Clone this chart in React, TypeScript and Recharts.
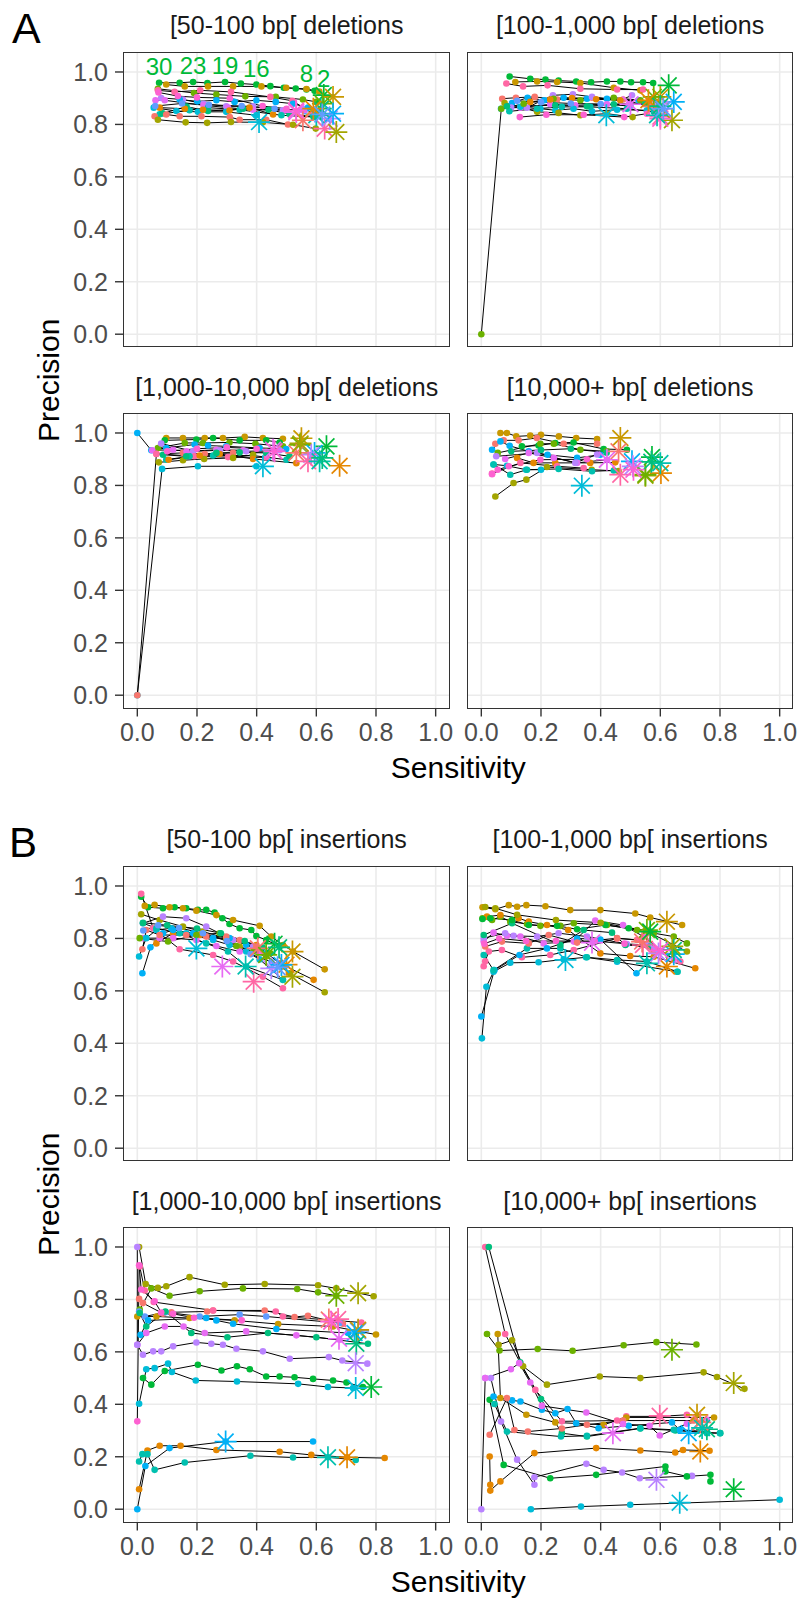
import React from "react";
import { ScatterChart, Scatter, XAxis, YAxis, CartesianGrid } from "recharts";

// ggplot hue palette, one colour per caller
const palette = [
  "#F8766D", "#E58700", "#C99800", "#A3A500", "#6BB100",
  "#00BA38", "#00BF7D", "#00C0AF", "#00BCD8", "#00B0F6",
  "#619CFF", "#B983FF", "#E76BF3", "#FD61D1", "#FF67A4",
];

const xTicks = [0, 0.2, 0.4, 0.6, 0.8, 1];
const yTicks = [0, 0.2, 0.4, 0.6, 0.8, 1];

const panelTitles = [
  "[50-100 bp[ deletions",
  "[100-1,000 bp[ deletions",
  "[1,000-10,000 bp[ deletions",
  "[10,000+ bp[ deletions",
  "[50-100 bp[ insertions",
  "[100-1,000 bp[ insertions",
  "[1,000-10,000 bp[ insertions",
  "[10,000+ bp[ insertions",
];

type Series = { id: number; pts: number[][]; star: number[] };

const del50: Series[] = [
  { id: 5, pts: [[0.073, 0.959], [0.142, 0.959], [0.187, 0.962], [0.235, 0.958], [0.294, 0.962], [0.347, 0.956], [0.399, 0.952], [0.446, 0.946], [0.491, 0.94], [0.531, 0.937], [0.567, 0.933], [0.594, 0.928]], star: [0.625, 0.912] },
  { id: 2, pts: [[0.097, 0.952], [0.159, 0.945], [0.237, 0.945], [0.321, 0.945], [0.416, 0.945], [0.499, 0.94], [0.567, 0.935], [0.61, 0.925]], star: [0.656, 0.905] },
  { id: 4, pts: [[0.069, 0.936], [0.19, 0.92], [0.265, 0.914], [0.362, 0.907], [0.464, 0.905], [0.555, 0.895], [0.6, 0.886]], star: [0.622, 0.879] },
  { id: 14, pts: [[0.069, 0.93], [0.125, 0.924], [0.211, 0.93], [0.314, 0.924], [0.446, 0.905], [0.52, 0.89], [0.59, 0.84]], star: [0.628, 0.784] },
  { id: 11, pts: [[0.08, 0.901], [0.153, 0.895], [0.222, 0.879], [0.298, 0.869], [0.388, 0.869], [0.488, 0.854], [0.555, 0.86]], star: [0.645, 0.822] },
  { id: 12, pts: [[0.061, 0.892], [0.092, 0.892], [0.222, 0.873], [0.304, 0.864], [0.388, 0.856], [0.497, 0.854]], star: [0.533, 0.847] },
  { id: 9, pts: [[0.142, 0.895], [0.201, 0.888], [0.265, 0.892], [0.326, 0.886], [0.399, 0.892], [0.464, 0.886], [0.522, 0.879], [0.572, 0.864]], star: [0.656, 0.841] },
  { id: 8, pts: [[0.055, 0.864], [0.131, 0.851], [0.203, 0.848], [0.298, 0.848], [0.399, 0.835]], star: [0.408, 0.809] },
  { id: 7, pts: [[0.075, 0.839], [0.175, 0.854], [0.237, 0.864], [0.343, 0.856], [0.483, 0.835], [0.594, 0.828]], star: [0.6, 0.835] },
  { id: 6, pts: [[0.085, 0.842], [0.165, 0.868], [0.237, 0.851], [0.355, 0.86], [0.44, 0.856], [0.51, 0.84], [0.59, 0.83]], star: [0.615, 0.86] },
  { id: 1, pts: [[0.075, 0.864], [0.159, 0.86], [0.22, 0.856], [0.309, 0.853], [0.376, 0.864], [0.455, 0.838]], star: [0.59, 0.86] },
  { id: 0, pts: [[0.058, 0.831], [0.097, 0.838], [0.142, 0.831], [0.215, 0.831], [0.31, 0.828], [0.343, 0.818], [0.432, 0.818], [0.505, 0.8]], star: [0.555, 0.816] },
  { id: 3, pts: [[0.069, 0.818], [0.162, 0.808], [0.234, 0.806], [0.314, 0.809], [0.421, 0.808], [0.522, 0.799], [0.598, 0.784]], star: [0.667, 0.771] },
  { id: 13, pts: [[0.071, 0.922], [0.136, 0.908], [0.2, 0.903], [0.31, 0.9], [0.42, 0.87], [0.5, 0.86]], star: [0.532, 0.853] },
  { id: 10, pts: [[0.06, 0.87], [0.15, 0.88], [0.24, 0.875], [0.35, 0.87], [0.46, 0.86], [0.56, 0.85]], star: [0.62, 0.838] },
];

const del50Labels = [
  { x: 0.073, y: 0.959, text: "30" },
  { x: 0.187, y: 0.962, text: "23" },
  { x: 0.294, y: 0.962, text: "19" },
  { x: 0.399, y: 0.952, text: "16" },
  { x: 0.567, y: 0.933, text: "8" },
  { x: 0.625, y: 0.912, text: "2" },
];

const del100: Series[] = [
  { id: 5, pts: [[0.095, 0.983], [0.164, 0.974], [0.215, 0.971], [0.259, 0.967], [0.318, 0.964], [0.368, 0.961], [0.421, 0.964], [0.466, 0.964], [0.502, 0.961], [0.542, 0.961], [0.576, 0.958]], star: [0.628, 0.949] },
  { id: 2, pts: [[0.114, 0.962], [0.187, 0.964], [0.254, 0.962], [0.332, 0.958], [0.444, 0.94], [0.533, 0.93]], star: [0.6, 0.905] },
  { id: 14, pts: [[0.084, 0.956], [0.14, 0.945], [0.222, 0.949], [0.332, 0.936], [0.455, 0.933], [0.542, 0.933]], star: [0.6, 0.83] },
  { id: 0, pts: [[0.07, 0.898], [0.116, 0.902], [0.179, 0.905], [0.254, 0.895], [0.371, 0.902], [0.475, 0.895], [0.566, 0.867]], star: [0.578, 0.869] },
  { id: 9, pts: [[0.103, 0.882], [0.155, 0.902], [0.211, 0.892], [0.276, 0.902], [0.354, 0.898], [0.421, 0.898], [0.527, 0.892]], star: [0.645, 0.886] },
  { id: 11, pts: [[0.1, 0.864], [0.153, 0.864], [0.24, 0.911], [0.307, 0.915], [0.371, 0.905], [0.466, 0.892], [0.505, 0.911]], star: [0.6, 0.86] },
  { id: 12, pts: [[0.131, 0.864], [0.231, 0.877], [0.315, 0.873], [0.421, 0.877], [0.494, 0.877]], star: [0.5, 0.877] },
  { id: 8, pts: [[0.066, 0.86], [0.131, 0.867], [0.198, 0.86], [0.248, 0.854], [0.309, 0.86], [0.371, 0.85], [0.455, 0.856], [0.555, 0.854]], star: [0.419, 0.835] },
  { id: 3, pts: [[0.078, 0.882], [0.187, 0.848], [0.259, 0.844], [0.332, 0.835], [0.421, 0.841], [0.507, 0.828]], star: [0.639, 0.816] },
  { id: 13, pts: [[0.129, 0.828], [0.218, 0.837], [0.343, 0.837], [0.479, 0.828], [0.555, 0.841]], star: [0.6, 0.822] },
  { id: 4, pts: [[0, 0], [0.067, 0.86], [0.142, 0.879], [0.242, 0.898], [0.332, 0.892], [0.444, 0.902], [0.533, 0.892]], star: [0.578, 0.905] },
  { id: 7, pts: [[0.094, 0.85], [0.187, 0.86], [0.27, 0.867], [0.365, 0.867], [0.488, 0.86], [0.578, 0.848]], star: [0.589, 0.835] },
  { id: 1, pts: [[0.164, 0.886], [0.231, 0.895], [0.304, 0.901], [0.385, 0.896], [0.466, 0.892], [0.564, 0.89]], star: [0.56, 0.892] },
  { id: 6, pts: [[0.086, 0.869], [0.248, 0.873], [0.354, 0.869], [0.444, 0.877], [0.55, 0.879]], star: [0.6, 0.87] },
  { id: 10, pts: [[0.12, 0.89], [0.2, 0.885], [0.3, 0.88], [0.4, 0.878], [0.5, 0.87]], star: [0.61, 0.86] },
];

const del1k: Series[] = [
  { id: 2, pts: [[0.097, 0.981], [0.153, 0.981], [0.226, 0.981], [0.287, 0.981], [0.36, 0.985], [0.421, 0.981], [0.488, 0.978]], star: [0.55, 0.98] },
  { id: 5, pts: [[0.092, 0.972], [0.198, 0.975], [0.254, 0.981], [0.343, 0.972], [0.432, 0.972], [0.477, 0.964]], star: [0.634, 0.949] },
  { id: 4, pts: [[0.069, 0.943], [0.159, 0.962], [0.22, 0.962], [0.309, 0.964], [0.396, 0.959], [0.488, 0.949]], star: [0.545, 0.955] },
  { id: 9, pts: [[0, 1], [0.047, 0.934], [0.097, 0.943], [0.192, 0.956], [0.237, 0.952], [0.298, 0.949], [0.41, 0.943], [0.499, 0.939]], star: [0.594, 0.924] },
  { id: 8, pts: [[0, 0], [0.083, 0.863], [0.203, 0.873], [0.399, 0.873]], star: [0.421, 0.873] },
  { id: 0, pts: [[0, 0], [0.064, 0.92], [0.153, 0.924], [0.226, 0.92], [0.321, 0.924], [0.432, 0.928]], star: [0.533, 0.924] },
  { id: 12, pts: [[0.05, 0.934], [0.12, 0.936], [0.165, 0.93], [0.265, 0.936], [0.355, 0.934]], star: [0.455, 0.936] },
  { id: 11, pts: [[0.08, 0.96], [0.187, 0.93], [0.277, 0.934], [0.365, 0.93], [0.477, 0.934]], star: [0.583, 0.917] },
  { id: 14, pts: [[0.064, 0.921], [0.192, 0.911], [0.304, 0.908], [0.432, 0.907]], star: [0.572, 0.892] },
  { id: 7, pts: [[0.097, 0.898], [0.175, 0.911], [0.254, 0.914], [0.388, 0.914], [0.5, 0.898]], star: [0.611, 0.892] },
  { id: 3, pts: [[0.072, 0.888], [0.153, 0.896], [0.224, 0.901], [0.321, 0.905], [0.388, 0.917]], star: [0.547, 0.96] },
  { id: 1, pts: [[0.105, 0.898], [0.209, 0.914], [0.276, 0.92], [0.388, 0.901], [0.533, 0.885]], star: [0.678, 0.875] },
  { id: 6, pts: [[0.086, 0.917], [0.164, 0.911], [0.265, 0.924], [0.343, 0.926], [0.432, 0.924], [0.51, 0.911]], star: [0.62, 0.905] },
  { id: 13, pts: [[0.1, 0.93], [0.2, 0.94], [0.3, 0.945], [0.4, 0.94]], star: [0.46, 0.93] },
];

const del10k: Series[] = [
  { id: 3, pts: [[0.047, 0.758], [0.108, 0.809], [0.151, 0.822], [0.22, 0.87], [0.37, 0.86], [0.46, 0.855]], star: [0.55, 0.837] },
  { id: 8, pts: [[0.041, 0.88], [0.086, 0.875], [0.15, 0.86], [0.2, 0.86]], star: [0.337, 0.799] },
  { id: 2, pts: [[0.064, 1.0], [0.086, 1.0], [0.117, 0.987], [0.164, 0.99], [0.2, 0.993], [0.26, 0.987], [0.318, 0.981], [0.388, 0.977]], star: [0.466, 0.981] },
  { id: 1, pts: [[0.12, 0.905], [0.175, 0.886], [0.248, 0.886], [0.365, 0.886], [0.449, 0.888]], star: [0.602, 0.847] },
  { id: 0, pts: [[0.047, 0.959], [0.075, 0.972], [0.125, 0.972], [0.186, 0.981], [0.276, 0.959], [0.388, 0.959]], star: [0.46, 0.93] },
  { id: 9, pts: [[0.036, 0.936], [0.064, 0.968], [0.095, 0.951], [0.159, 0.93], [0.222, 0.917], [0.321, 0.905], [0.399, 0.917]], star: [0.505, 0.892] },
  { id: 5, pts: [[0.136, 0.949], [0.192, 0.952], [0.248, 0.962], [0.309, 0.964], [0.41, 0.939], [0.488, 0.936]], star: [0.572, 0.908] },
  { id: 4, pts: [[0.055, 0.924], [0.198, 0.959], [0.243, 0.959], [0.332, 0.936], [0.42, 0.93]], star: [0.55, 0.841] },
  { id: 12, pts: [[0.08, 0.901], [0.159, 0.924], [0.243, 0.905], [0.321, 0.886], [0.421, 0.898]], star: [0.421, 0.898] },
  { id: 14, pts: [[0.036, 0.845], [0.131, 0.886], [0.254, 0.873], [0.343, 0.866]], star: [0.466, 0.841] },
  { id: 11, pts: [[0.05, 0.911], [0.187, 0.924], [0.315, 0.886], [0.388, 0.918]], star: [0.508, 0.873] },
  { id: 7, pts: [[0.041, 0.88], [0.097, 0.841], [0.153, 0.86], [0.259, 0.863], [0.371, 0.854], [0.444, 0.857]], star: [0.6, 0.885] },
  { id: 6, pts: [[0.1, 0.93], [0.2, 0.935], [0.3, 0.94], [0.42, 0.925]], star: [0.57, 0.89] },
  { id: 13, pts: [[0.036, 0.843], [0.055, 0.86], [0.092, 0.873], [0.198, 0.898], [0.354, 0.9]], star: [0.51, 0.86] },
];

const ins50: Series[] = [
  { id: 5, pts: [[0.013, 0.959], [0.036, 0.919], [0.086, 0.915], [0.125, 0.919], [0.164, 0.915], [0.203, 0.909], [0.231, 0.909], [0.259, 0.899], [0.285, 0.877], [0.309, 0.855], [0.343, 0.839], [0.382, 0.832], [0.399, 0.809], [0.432, 0.794], [0.477, 0.769]], star: [0.46, 0.78] },
  { id: 2, pts: [[0.025, 0.924], [0.058, 0.928], [0.108, 0.919], [0.153, 0.915], [0.198, 0.906], [0.265, 0.889], [0.321, 0.87], [0.41, 0.848], [0.449, 0.807], [0.488, 0.775], [0.522, 0.75], [0.628, 0.682]], star: [0.52, 0.75] },
  { id: 3, pts: [[0.013, 0.892], [0.075, 0.87], [0.153, 0.845], [0.22, 0.826], [0.298, 0.801], [0.343, 0.769], [0.432, 0.731], [0.511, 0.667], [0.628, 0.595]], star: [0.52, 0.654] },
  { id: 1, pts: [[0.064, 0.781], [0.12, 0.82], [0.209, 0.813], [0.321, 0.794], [0.399, 0.775], [0.477, 0.705], [0.591, 0.642]], star: [0.5, 0.7] },
  { id: 11, pts: [[0.019, 0.858], [0.086, 0.883], [0.164, 0.877], [0.231, 0.845], [0.321, 0.794], [0.388, 0.769]], star: [0.449, 0.686] },
  { id: 12, pts: [[0.019, 0.801], [0.075, 0.801], [0.12, 0.801], [0.198, 0.794], [0.265, 0.771], [0.343, 0.75], [0.41, 0.75]], star: [0.285, 0.693] },
  { id: 14, pts: [[0.013, 0.97], [0.053, 0.839], [0.142, 0.759], [0.254, 0.737], [0.321, 0.712], [0.421, 0.654], [0.488, 0.61]], star: [0.39, 0.635] },
  { id: 8, pts: [[0.006, 0.731], [0.03, 0.801], [0.064, 0.832], [0.114, 0.839], [0.164, 0.82], [0.254, 0.794], [0.309, 0.775], [0.365, 0.75], [0.41, 0.72], [0.488, 0.642]], star: [0.198, 0.762] },
  { id: 9, pts: [[0.017, 0.667], [0.044, 0.766], [0.086, 0.82], [0.12, 0.832], [0.187, 0.82], [0.254, 0.801], [0.309, 0.801], [0.365, 0.775], [0.432, 0.743]], star: [0.483, 0.699] },
  { id: 7, pts: [[0.019, 0.858], [0.064, 0.839], [0.142, 0.82], [0.231, 0.781], [0.304, 0.75], [0.365, 0.693], [0.488, 0.642]], star: [0.363, 0.693] },
  { id: 0, pts: [[0.017, 0.759], [0.03, 0.832], [0.075, 0.813], [0.164, 0.813], [0.231, 0.807], [0.298, 0.807], [0.343, 0.794], [0.399, 0.769]], star: [0.404, 0.762] },
  { id: 4, pts: [[0.008, 0.801], [0.103, 0.788], [0.198, 0.813], [0.276, 0.82], [0.332, 0.771], [0.388, 0.75], [0.446, 0.743]], star: [0.432, 0.737] },
  { id: 6, pts: [[0.019, 0.86], [0.1, 0.85], [0.2, 0.838], [0.28, 0.82], [0.36, 0.79], [0.42, 0.765]], star: [0.475, 0.766] },
  { id: 10, pts: [[0.02, 0.83], [0.07, 0.85], [0.14, 0.84], [0.22, 0.82], [0.3, 0.79], [0.38, 0.74], [0.45, 0.71]], star: [0.47, 0.69] },
];

const ins100: Series[] = [
  { id: 2, pts: [[0.004, 0.919], [0.047, 0.911], [0.092, 0.927], [0.12, 0.921], [0.151, 0.927], [0.215, 0.923], [0.298, 0.908], [0.399, 0.908], [0.516, 0.895], [0.566, 0.88], [0.673, 0.851]], star: [0.622, 0.864] },
  { id: 4, pts: [[0.004, 0.877], [0.036, 0.87], [0.064, 0.883], [0.097, 0.864], [0.153, 0.855], [0.198, 0.848], [0.265, 0.848], [0.31, 0.858], [0.421, 0.851], [0.522, 0.832], [0.578, 0.82], [0.645, 0.807], [0.689, 0.781]], star: [0.555, 0.832] },
  { id: 1, pts: [[0.019, 0.883], [0.064, 0.889], [0.125, 0.877], [0.159, 0.864], [0.22, 0.851], [0.291, 0.832], [0.399, 0.743], [0.499, 0.733], [0.578, 0.73], [0.717, 0.686]], star: [0.622, 0.693] },
  { id: 14, pts: [[0.008, 0.694], [0.013, 0.713], [0.025, 0.75], [0.069, 0.756], [0.136, 0.728], [0.231, 0.737], [0.31, 0.756], [0.455, 0.8], [0.533, 0.794], [0.6, 0.75], [0.667, 0.712]], star: [0.542, 0.775] },
  { id: 12, pts: [[0.008, 0.788], [0.041, 0.822], [0.086, 0.81], [0.131, 0.807], [0.209, 0.781], [0.31, 0.788], [0.382, 0.868], [0.475, 0.851], [0.544, 0.807], [0.645, 0.718]], star: [0.371, 0.784] },
  { id: 11, pts: [[0.008, 0.801], [0.08, 0.82], [0.108, 0.81], [0.187, 0.807], [0.259, 0.82], [0.354, 0.807], [0.488, 0.779], [0.555, 0.775]], star: [0.594, 0.743] },
  { id: 8, pts: [[0.002, 0.419], [0.017, 0.616], [0.041, 0.673], [0.097, 0.707], [0.192, 0.709], [0.276, 0.72], [0.351, 0.728], [0.455, 0.711], [0.656, 0.673]], star: [0.282, 0.718] },
  { id: 9, pts: [[0, 0.502], [0.044, 0.679], [0.128, 0.737], [0.22, 0.762], [0.321, 0.8], [0.399, 0.796], [0.52, 0.667]], star: [0.645, 0.74] },
  { id: 7, pts: [[0.008, 0.737], [0.041, 0.679], [0.153, 0.762], [0.265, 0.762], [0.354, 0.728], [0.455, 0.718], [0.555, 0.712], [0.658, 0.673]], star: [0.555, 0.705] },
  { id: 6, pts: [[0.008, 0.813], [0.103, 0.858], [0.265, 0.775], [0.343, 0.832], [0.438, 0.822], [0.483, 0.775], [0.566, 0.769], [0.645, 0.75]], star: [0.645, 0.756] },
  { id: 0, pts: [[0.013, 0.769], [0.069, 0.788], [0.159, 0.781], [0.226, 0.813], [0.321, 0.784], [0.455, 0.801], [0.522, 0.794], [0.578, 0.75]], star: [0.539, 0.788] },
  { id: 5, pts: [[0.004, 0.874], [0.03, 0.877], [0.103, 0.87], [0.159, 0.851], [0.254, 0.848], [0.321, 0.835], [0.416, 0.851], [0.494, 0.839], [0.566, 0.826]], star: [0.566, 0.826] },
  { id: 3, pts: [[0.013, 0.92], [0.047, 0.915], [0.12, 0.89], [0.25, 0.87], [0.4, 0.86], [0.55, 0.83], [0.689, 0.75]], star: [0.64, 0.77] },
  { id: 13, pts: [[0.01, 0.78], [0.06, 0.8], [0.15, 0.79], [0.25, 0.79], [0.38, 0.79], [0.48, 0.78], [0.58, 0.76]], star: [0.6, 0.755] },
];

const ins1k: Series[] = [
  { id: 3, pts: [[0.006, 1.0], [0.028, 0.859], [0.069, 0.844], [0.097, 0.85], [0.175, 0.885], [0.293, 0.856], [0.427, 0.859], [0.606, 0.854], [0.667, 0.842], [0.792, 0.812]], star: [0.74, 0.824] },
  { id: 4, pts: [[0.008, 0.761], [0.047, 0.842], [0.108, 0.814], [0.209, 0.831], [0.354, 0.842], [0.536, 0.84], [0.606, 0.827], [0.667, 0.814]], star: [0.667, 0.814] },
  { id: 0, pts: [[0.006, 0.802], [0.019, 0.786], [0.086, 0.746], [0.114, 0.751], [0.234, 0.754], [0.254, 0.758], [0.427, 0.758], [0.527, 0.733], [0.572, 0.738], [0.639, 0.72], [0.689, 0.707]], star: [0.642, 0.723] },
  { id: 14, pts: [[0.008, 0.926], [0.025, 0.834], [0.055, 0.79], [0.254, 0.758], [0.464, 0.754], [0.488, 0.735], [0.751, 0.712]], star: [0.673, 0.725] },
  { id: 10, pts: [[0.006, 0.754], [0.025, 0.735], [0.095, 0.751], [0.209, 0.735], [0.343, 0.742], [0.432, 0.735], [0.678, 0.71]], star: [0.74, 0.68] },
  { id: 2, pts: [[0, 0.735], [0.064, 0.735], [0.175, 0.729], [0.326, 0.72], [0.472, 0.706], [0.656, 0.697], [0.8, 0.666]], star: [0.74, 0.684] },
  { id: 9, pts: [[0.011, 0.665], [0.036, 0.72], [0.231, 0.729], [0.265, 0.72], [0.321, 0.707], [0.466, 0.687], [0.706, 0.672]], star: [0.728, 0.672] },
  { id: 12, pts: [[0, 0.627], [0.03, 0.672], [0.092, 0.697], [0.155, 0.697], [0.226, 0.672], [0.365, 0.678], [0.533, 0.663], [0.678, 0.646]], star: [0.676, 0.65] },
  { id: 6, pts: [[0.008, 0.748], [0.03, 0.697], [0.094, 0.754], [0.181, 0.672], [0.302, 0.656], [0.438, 0.672], [0.6, 0.656], [0.773, 0.631]], star: [0.734, 0.631] },
  { id: 11, pts: [[0, 1.0], [0, 0.627], [0.019, 0.589], [0.053, 0.602], [0.08, 0.602], [0.12, 0.621], [0.198, 0.636], [0.248, 0.631], [0.287, 0.627], [0.332, 0.612], [0.421, 0.602], [0.511, 0.574], [0.642, 0.58], [0.687, 0.567], [0.771, 0.555]], star: [0.732, 0.557] },
  { id: 5, pts: [[0.019, 0.5], [0.047, 0.475], [0.092, 0.527], [0.203, 0.551], [0.282, 0.529], [0.334, 0.545], [0.377, 0.534], [0.432, 0.506], [0.477, 0.506], [0.527, 0.503], [0.589, 0.497], [0.656, 0.491], [0.701, 0.483], [0.756, 0.466]], star: [0.784, 0.466] },
  { id: 8, pts: [[0.006, 0.402], [0.03, 0.534], [0.058, 0.538], [0.103, 0.555], [0.116, 0.523], [0.196, 0.491], [0.334, 0.487], [0.539, 0.478], [0.639, 0.466], [0.723, 0.462]], star: [0.732, 0.462] },
  { id: 13, pts: [[0, 0.335], [0.006, 0.93], [0.013, 0.838], [0.058, 0.793], [0.08, 0.75], [0.12, 0.745], [0.19, 0.73], [0.35, 0.72]], star: [0.65, 0.715] },
  { id: 9, pts: [[0, 0], [0.027, 0.165], [0.108, 0.233], [0.296, 0.258], [0.589, 0.258]], star: [0.296, 0.258] },
  { id: 1, pts: [[0.006, 0.076], [0.034, 0.224], [0.075, 0.242], [0.145, 0.242], [0.265, 0.226], [0.477, 0.219], [0.583, 0.207], [0.703, 0.198], [0.829, 0.195]], star: [0.703, 0.198] },
  { id: 7, pts: [[0.006, 0.182], [0.017, 0.21], [0.034, 0.21], [0.058, 0.15], [0.159, 0.178], [0.379, 0.204], [0.522, 0.197], [0.639, 0.198], [0.732, 0.188]], star: [0.639, 0.198] },
];

const ins10k: Series[] = [
  { id: 14, pts: [[0.013, 1.0], [0.08, 0.668], [0.131, 0.557], [0.181, 0.455], [0.27, 0.335], [0.455, 0.338], [0.486, 0.354], [0.598, 0.354], [0.689, 0.36], [0.712, 0.341]], star: [0.598, 0.356] },
  { id: 6, pts: [[0.025, 1.0], [0.13, 0.56], [0.2, 0.42], [0.27, 0.29], [0.354, 0.277], [0.533, 0.308], [0.65, 0.3], [0.801, 0.29]], star: [0.756, 0.305] },
  { id: 11, pts: [[0, 0], [0.013, 0.5], [0.032, 0.5], [0.066, 0.334], [0.12, 0.189], [0.178, 0.093], [0.178, 0.122], [0.352, 0.173], [0.41, 0.15], [0.472, 0.14], [0.531, 0.118], [0.706, 0.127]], star: [0.587, 0.112] },
  { id: 8, pts: [[0.166, 0], [0.334, 0.01], [0.499, 0.017], [1.0, 0.036]], star: [0.665, 0.025] },
  { id: 4, pts: [[0.019, 0.668], [0.061, 0.605], [0.189, 0.611], [0.306, 0.604], [0.477, 0.625], [0.587, 0.637], [0.721, 0.628]], star: [0.639, 0.608] },
  { id: 3, pts: [[0.058, 0.627], [0.103, 0.644], [0.14, 0.545], [0.22, 0.475], [0.397, 0.506], [0.533, 0.5], [0.745, 0.522], [0.79, 0.504], [0.882, 0.459]], star: [0.846, 0.481] },
  { id: 2, pts: [[0.055, 0.668], [0.064, 0.424], [0.151, 0.36], [0.248, 0.331], [0.41, 0.322], [0.486, 0.35], [0.78, 0.35]], star: [0.723, 0.36] },
  { id: 5, pts: [[0.028, 0.417], [0.075, 0.169], [0.231, 0.118], [0.385, 0.131], [0.617, 0.163], [0.617, 0.144], [0.689, 0.125], [0.768, 0.131], [0.768, 0.106]], star: [0.846, 0.076] },
  { id: 9, pts: [[0.041, 0.43], [0.103, 0.415], [0.131, 0.411], [0.203, 0.379], [0.248, 0.366], [0.289, 0.382], [0.318, 0.328], [0.393, 0.309], [0.494, 0.318], [0.639, 0.331], [0.665, 0.303], [0.756, 0.296]], star: [0.695, 0.29] },
  { id: 0, pts: [[0.028, 0.284], [0.086, 0.424], [0.111, 0.302], [0.156, 0.296], [0.27, 0.308], [0.354, 0.322], [0.475, 0.338], [0.712, 0.338]], star: [0.734, 0.331] },
  { id: 12, pts: [[0.013, 0.5], [0.099, 0.534], [0.127, 0.557], [0.164, 0.483], [0.203, 0.394], [0.352, 0.369], [0.475, 0.325], [0.564, 0.318], [0.598, 0.281], [0.689, 0.326], [0.756, 0.341]], star: [0.441, 0.29] },
  { id: 7, pts: [[0.044, 0.401], [0.086, 0.296], [0.267, 0.277], [0.354, 0.28], [0.533, 0.309], [0.645, 0.303], [0.756, 0.29], [0.8, 0.29]], star: [0.74, 0.31] },
  { id: 1, pts: [[0.028, 0.201], [0.03, 0.093], [0.03, 0.071], [0.064, 0.106], [0.178, 0.214], [0.385, 0.233], [0.533, 0.224], [0.65, 0.216], [0.676, 0.226], [0.765, 0.223]], star: [0.734, 0.22] },
];

const FONT = '"Liberation Sans", Arial, Helvetica, sans-serif';
const COL_X = [123.3, 466.7];
const ROW_Y = [51.7, 413.4, 865.7, 1227.3];
const PW = 326.7;
const PH = 295.5;
const YAXIS_W = 60;
const XAXIS_H = 50;
const SIDE = 24; // room for tick labels that hang past the panel edge
const X_DOMAIN = [-0.048, 1.047];
const Y_DOMAIN = [-0.0507, 1.0762];

const toPts = (a: number[][]) => a.map(([x, y]) => ({ x, y }));
const fmt = (v: number) => v.toFixed(1);

const NoShape = () => <g />;

const dotShape = (color: string) => (p: any) =>
  <circle cx={p.cx} cy={p.cy} r={3.3} fill={color} />;

// ggplot shape 8: plus and cross overlaid
const starShape = (color: string) => (p: any) => {
  const r = 11;
  const d = r * 0.72;
  return (
    <g stroke={color} strokeWidth={1.7}>
      <line x1={p.cx - r} y1={p.cy} x2={p.cx + r} y2={p.cy} />
      <line x1={p.cx} y1={p.cy - r} x2={p.cx} y2={p.cy + r} />
      <line x1={p.cx - d} y1={p.cy - d} x2={p.cx + d} y2={p.cy + d} />
      <line x1={p.cx - d} y1={p.cy + d} x2={p.cx + d} y2={p.cy - d} />
    </g>
  );
};

const labelShape = (p: any) => (
  <text x={p.cx} y={p.cy - 8} textAnchor="middle" fontSize={24} fontFamily={FONT} fill={palette[5]}>
    {p.payload?.text}
  </text>
);

const panels = [
  { data: del50, row: 0, col: 0, labels: del50Labels },
  { data: del100, row: 0, col: 1 },
  { data: del1k, row: 1, col: 0 },
  { data: del10k, row: 1, col: 1 },
  { data: ins50, row: 2, col: 0 },
  { data: ins100, row: 2, col: 1 },
  { data: ins1k, row: 3, col: 0 },
  { data: ins10k, row: 3, col: 1 },
];

function Panel({ data, row, col, labels }: { data: Series[]; row: number; col: number; labels?: any[] }) {
  const showY = col === 0;
  const showX = row === 1 || row === 3;
  const yw = showY ? YAXIS_W : 0;
  const w = PW + yw + 2 * SIDE;
  const h = PH + (showX ? XAXIS_H : 0);
  const left = COL_X[col] - yw - SIDE;
  const top = ROW_Y[row];
  const tickStyle = { fill: "#4D4D4D", fontSize: 25, fontFamily: FONT };
  return (
    <div style={{ position: "absolute", left, top, width: w, height: h }}>
      <ScatterChart width={w} height={h} margin={{ top: 0, right: SIDE, bottom: 0, left: SIDE }}>
        <CartesianGrid horizontalValues={yTicks} verticalValues={xTicks} stroke="#EBEBEB" strokeWidth={1.6} />
        <XAxis
          type="number"
          dataKey="x"
          domain={X_DOMAIN}
          allowDataOverflow
          ticks={xTicks}
          tickFormatter={fmt}
          hide={!showX}
          height={XAXIS_H}
          axisLine={false}
          tickSize={8}
          tickMargin={7}
          tickLine={{ stroke: "#333333", strokeWidth: 1.4 }}
          tick={tickStyle}
          interval={0}
        />
        <YAxis
          type="number"
          dataKey="y"
          domain={Y_DOMAIN}
          allowDataOverflow
          ticks={yTicks}
          tickFormatter={fmt}
          hide={!showY}
          width={YAXIS_W}
          axisLine={false}
          tickSize={8}
          tickMargin={7}
          tickLine={{ stroke: "#333333", strokeWidth: 1.4 }}
          tick={tickStyle}
          interval={0}
        />
        {data.map((s, i) => (
          <Scatter key={"l" + i} data={toPts(s.pts)} line={{ stroke: "#000", strokeWidth: 1 }} shape={NoShape} isAnimationActive={false} />
        ))}
        {data.map((s, i) => (
          <Scatter key={"p" + i} data={toPts(s.pts)} shape={dotShape(palette[s.id])} isAnimationActive={false} />
        ))}
        {data.map((s, i) => (
          <Scatter key={"s" + i} data={toPts([s.star])} shape={starShape(palette[s.id])} isAnimationActive={false} />
        ))}
        {labels && <Scatter data={labels} shape={labelShape} isAnimationActive={false} />}
      </ScatterChart>
      <div
        style={{
          position: "absolute",
          left: SIDE + yw,
          top: 0,
          width: PW,
          height: PH,
          border: "1.5px solid #333333",
          boxSizing: "border-box",
          pointerEvents: "none",
        }}
      />
    </div>
  );
}

export default function App() {
  const midX = (COL_X[0] + COL_X[1] + PW) / 2;
  return (
    <div style={{ position: "absolute", left: 0, top: 0, width: 801, height: 1603, background: "#fff", fontFamily: FONT }}>
      {panels.map((p, i) => (
        <Panel key={i} data={p.data} row={p.row} col={p.col} labels={p.labels} />
      ))}
      <svg width={801} height={1603} style={{ position: "absolute", left: 0, top: 0, pointerEvents: "none" }} fontFamily={FONT}>
        {panels.map((p, i) => (
          <text key={i} x={COL_X[p.col] + PW / 2} y={ROW_Y[p.row] - 17.5} textAnchor="middle" fontSize={25} fill="#1A1A1A">
            {panelTitles[i]}
          </text>
        ))}
        <text x={midX} y={ROW_Y[1] + PH + 68.7} textAnchor="middle" fontSize={30} fill="#000">Sensitivity</text>
        <text x={midX} y={ROW_Y[3] + PH + 68.7} textAnchor="middle" fontSize={30} fill="#000">Sensitivity</text>
        <text transform={`translate(59, ${(ROW_Y[0] + ROW_Y[1] + PH) / 2}) rotate(-90)`} textAnchor="middle" fontSize={30} fill="#000">Precision</text>
        <text transform={`translate(59, ${(ROW_Y[2] + ROW_Y[3] + PH) / 2}) rotate(-90)`} textAnchor="middle" fontSize={30} fill="#000">Precision</text>
        <text x={12} y={43} fontSize={43} fill="#000">A</text>
        <text x={9} y={857} fontSize={42} fill="#000">B</text>
      </svg>
    </div>
  );
}
